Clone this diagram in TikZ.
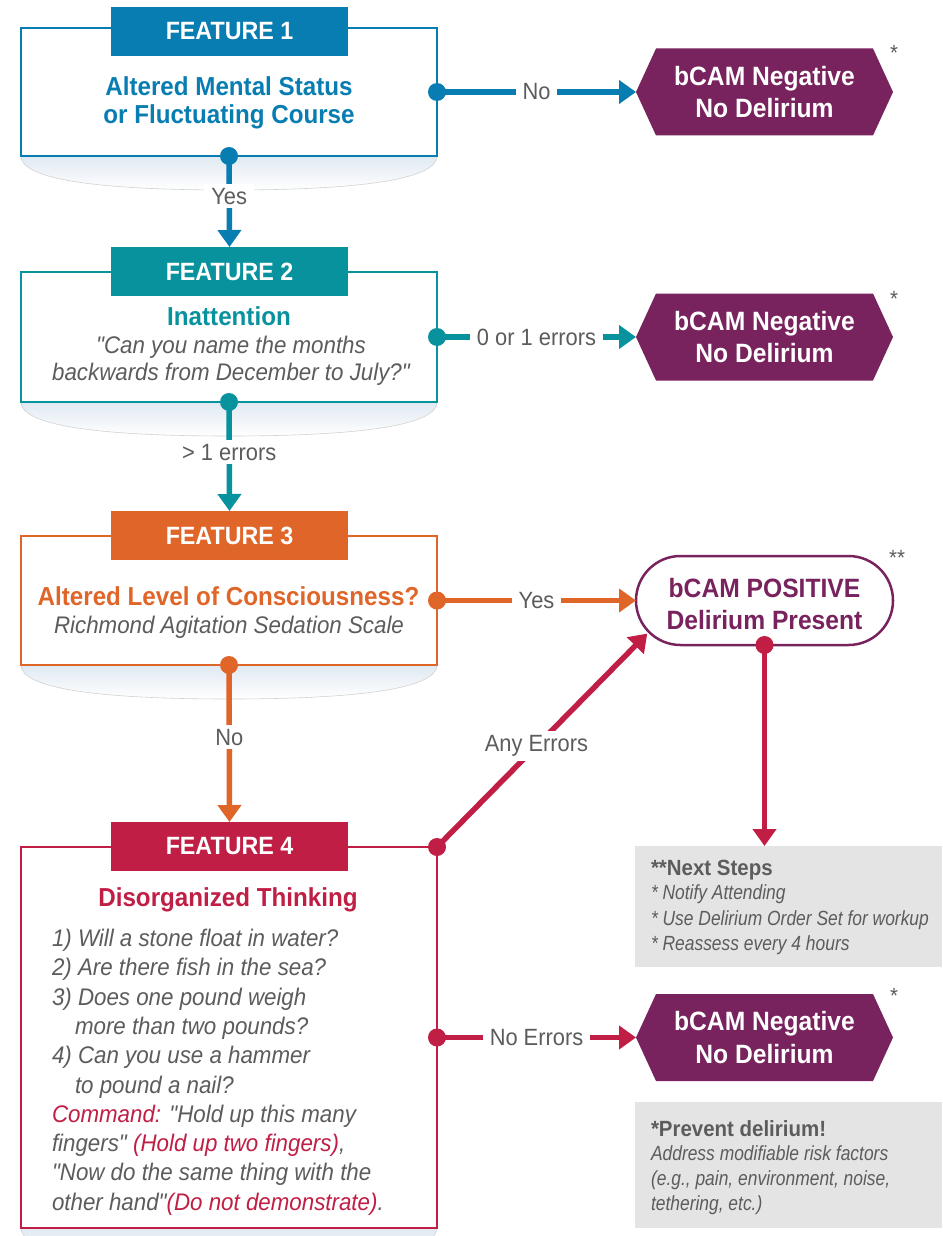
\documentclass[tikz,border=0pt]{standalone}
\usepackage{fontspec}
\setmainfont[FakeStretch=0.93, Ligatures=TeXOff]{Liberation Sans}
\newfontfamily\condfont[FakeStretch=0.85, Ligatures=TeXOff]{Liberation Sans}
\usetikzlibrary{arrows.meta,calc}
\definecolor{cA}{RGB}{8,125,178}
\definecolor{cB}{RGB}{8,146,158}
\definecolor{cC}{RGB}{224,101,40}
\definecolor{cD}{RGB}{192,30,69}
\definecolor{purp}{RGB}{120,34,94}
\definecolor{txtgrey}{RGB}{92,92,92}
\definecolor{panel}{RGB}{229,228,229}
\definecolor{shadowblue}{RGB}{224,233,242}
\newcommand\fsz[1]{\fontsize{#1}{#1}\selectfont}
\pgfdeclarelayer{bg}
\pgfsetlayers{bg,main}
% soft curved shadow under a feature box
\newcommand\boxshadow[1]{%
  \begin{pgfonlayer}{bg}
    \shade[top color=shadowblue, bottom color=white]
      (#1.south west) .. controls +(0,22) and +(-140,0) .. ($(#1.south)+(0,34)$)
      .. controls +(140,0) and +(0,22) .. (#1.south east) -- cycle;
    \draw[gray!35, line width=0.6pt]
      (#1.south west) .. controls +(0,22) and +(-140,0) .. ($(#1.south)+(0,34)$)
      .. controls +(140,0) and +(0,22) .. (#1.south east);
  \end{pgfonlayer}}
% hexagonal outcome badge filling a placeholder node
\newcommand\hexbadge[1]{%
  \fill[purp] (#1.west) -- ($(#1.north west)+(20,0)$) -- ($(#1.north east)+(-20,0)$)
    -- (#1.east) -- ($(#1.south east)+(-20,0)$) -- ($(#1.south west)+(20,0)$) -- cycle;}
\tikzset{
  every node/.style={inner sep=0pt, outer sep=0pt},
  fbox/.style={draw=#1, line width=2.5pt, fill=white, minimum width=416pt},
  hdr/.style={fill=#1, text=white, font=\bfseries\fsz{25}, minimum width=237pt, minimum height=49pt},
  ttl/.style={anchor=base, text=#1, font=\bfseries\fsz{26}},
  itl/.style={anchor=base, text=txtgrey, font=\itshape\fsz{24}},
  qline/.style={anchor=base west, text=txtgrey, font=\itshape\fsz{24}},
  hexslot/.style={minimum width=257pt, minimum height=87pt},
  hextxt/.style={anchor=base, text=white, font=\bfseries\fsz{26.5}},
  conn/.style={draw=#1, line width=5.5pt, -{Triangle[length=17pt,width=23pt]}},
  lbl/.style={fill=white, text=txtgrey, font=\fsz{23.5}, inner xsep=7pt, inner ysep=4pt},
  dot/.style={fill=#1},
  star/.style={anchor=north, text=txtgrey, font=\fsz{22}},
  panelbox/.style={fill=panel, minimum width=307pt},
  pbold/.style={anchor=base west, text=txtgrey, font=\bfseries\fsz{22}},
  pital/.style={anchor=base west, text=txtgrey, font=\condfont\itshape\fsz{20.5}}
}
\begin{document}
\begin{tikzpicture}[x=1pt,y=-1pt]
\useasboundingbox (0,0) rectangle (942,1236);

% ---- Feature 1
\node[fbox=cA, minimum height=128pt] (f1) at (229,92) {};
\node[hdr=cA] (f1h) at (229.5,31.5) {FEATURE 1};
\node[ttl=cA] (f1a) at (229,96) {Altered Mental Status};
\node[ttl=cA] (f1b) at (229,123.5) {or Fluctuating Course};
\boxshadow{f1}

% ---- Feature 2
\node[fbox=cB, minimum height=130pt] (f2) at (229,337) {};
\node[hdr=cB] (f2h) at (229.5,271.5) {FEATURE 2};
\node[ttl=cB] (f2a) at (229,325) {Inattention};
\node[itl] (f2b) at (231,353) {"Can you name the months};
\node[itl] (f2c) at (231,380.5) {backwards from December to July?"};
\boxshadow{f2}

% ---- Feature 3
\node[fbox=cC, minimum height=129pt] (f3) at (229,600.5) {};
\node[hdr=cC] (f3h) at (229.5,535.5) {FEATURE 3};
\node[ttl=cC] (f3a) at (228.5,605) {Altered Level of Consciousness?};
\node[itl] (f3b) at (229,633) {Richmond Agitation Sedation Scale};
\boxshadow{f3}

% ---- Feature 4
\node[fbox=cD, minimum height=381pt] (f4) at (229,1037.5) {};
\node[hdr=cD] (f4h) at (229.5,846.5) {FEATURE 4};
\node[ttl=cD] (f4a) at (228,906.7) {Disorganized Thinking};
\node[qline] (q1) at (52,946.7) {1) Will a stone float in water?};
\node[qline] (q2) at (52,975.8) {2) Are there fish in the sea?};
\node[qline] (q3) at (52,1005) {3) Does one pound weigh};
\node[qline] (q3b) at (75,1034) {more than two pounds?};
\node[qline] (q4) at (52,1063.3) {4) Can you use a hammer};
\node[qline] (q4b) at (75,1093) {to pound a nail?};
\node[qline] (c1) at (52,1122.5) {\textcolor{cD}{Command:} "Hold up this many};
\node[qline] (c2) at (52,1151.7) {fingers" \textcolor{cD}{(Hold up two fingers)},};
\node[qline] (c3) at (52,1180.8) {"Now do the same thing with the};
\node[qline] (c4) at (52,1210) {other hand"\textcolor{cD}{(Do not demonstrate)}.};
\boxshadow{f4}

% ---- Outcome badges
\node[hexslot] (h1) at (764.5,92) {};
\hexbadge{h1}
\node[hextxt] (h1a) at (764.5,85.2) {bCAM Negative};
\node[hextxt] (h1b) at (764.5,117.8) {No Delirium};
\node[star] (s1) at (894,45) {*};

\node[hexslot] (h2) at (764.5,337) {};
\hexbadge{h2}
\node[hextxt] (h2a) at (764.5,330.2) {bCAM Negative};
\node[hextxt] (h2b) at (764.5,362.8) {No Delirium};
\node[star] (s2) at (894,291) {*};

\node[hexslot] (h3) at (764.5,1037.5) {};
\hexbadge{h3}
\node[hextxt] (h3a) at (764.5,1030.7) {bCAM Negative};
\node[hextxt] (h3b) at (764.5,1063.3) {No Delirium};
\node[star] (s3) at (894,988) {*};

\node[draw=purp, line width=2.5pt, fill=white, rounded corners=44.5pt,
      minimum width=257pt, minimum height=89pt] (pos) at (764.5,600.5) {};
\node[anchor=base, text=purp, font=\bfseries\fsz{26.5}] (posa) at (764.5,597.3) {bCAM POSITIVE};
\node[anchor=base, text=purp, font=\bfseries\fsz{26.5}] (posb) at (764.5,629.3) {Delirium Present};
\node[star] (s4) at (897,550) {**};

% ---- Side panels
\node[panelbox, minimum height=121pt] (nb) at (788.5,906.5) {};
\node[pbold] (nb1) at (651,875) {**Next Steps};
\node[pital] (nb2) at (651,899.3) {* Notify Attending};
\node[pital] (nb3) at (651,925) {* Use Delirium Order Set for workup};
\node[pital] (nb4) at (651,950.7) {* Reassess every 4 hours};

\node[panelbox, minimum height=126pt] (pd) at (788.5,1165) {};
\node[pbold] (pd1) at (651,1136.7) {*Prevent delirium!};
\node[pital] (pd2) at (651,1160.5) {Address modifiable risk factors};
\node[pital] (pd3) at (651,1185) {(e.g., pain, environment, noise,};
\node[pital] (pd4) at (651,1210) {tethering, etc.)};

% ---- Connectors
\draw[conn=cA] (f1.east) -- node[lbl] (l1) {No} (h1.west);
\draw[conn=cA] (f1.south) -- node[lbl, pos=0.44] (l2) {Yes} (f1h.north |- f2h.north);
\draw[conn=cB] (f2.east) -- node[lbl] (l3) {0 or 1 errors} (h2.west);
\draw[conn=cB] (f2.south) -- node[lbl, pos=0.46] (l4) {> 1 errors} (f3h.north);
\draw[conn=cC] (f3.east) -- node[lbl] (l5) {Yes} (pos.west);
\draw[conn=cC] (f3.south) -- node[lbl, pos=0.46] (l6) {No} (f4h.north);
\draw[conn=cD, shorten >=-16pt] (f4.north east) -- node[lbl, pos=0.5] (l7) {Any Errors} (pos.south west);
\draw[conn=cD] (f4.east) -- node[lbl] (l8) {No Errors} (h3.west);
\draw[conn=cD] (pos.south) -- (pos.south |- nb.north);

% ---- Connector start dots
\fill[dot=cA] (f1.east) circle (9pt);
\fill[dot=cA] (f1.south) circle (9pt);
\fill[dot=cB] (f2.east) circle (9pt);
\fill[dot=cB] (f2.south) circle (9pt);
\fill[dot=cC] (f3.east) circle (9pt);
\fill[dot=cC] (f3.south) circle (9pt);
\fill[dot=cD] (f4.north east) circle (9pt);
\fill[dot=cD] (f4.east) circle (9pt);
\fill[dot=cD] (pos.south) circle (9pt);
\end{tikzpicture}
\end{document}
